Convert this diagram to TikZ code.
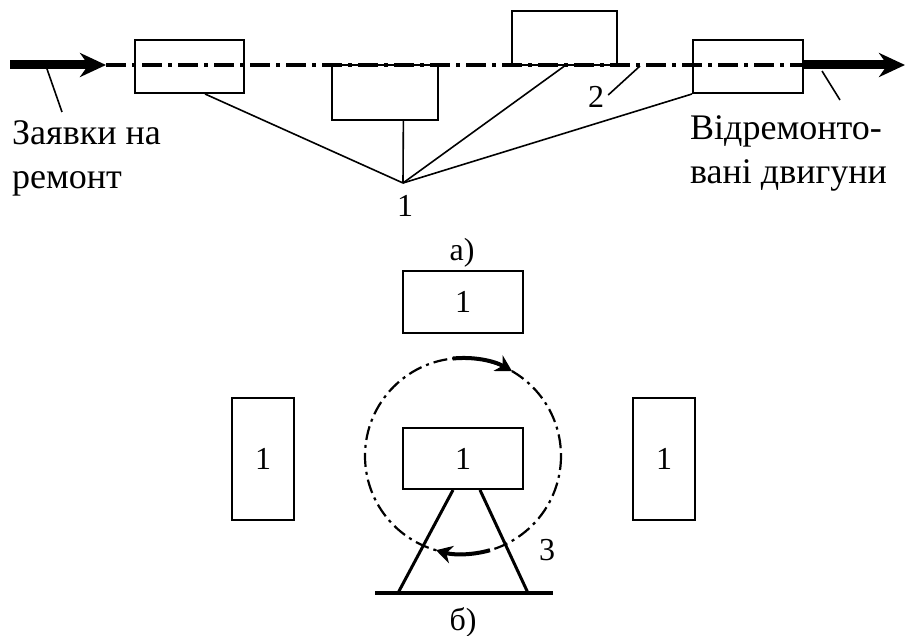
\documentclass[tikz,border=0pt]{standalone}
\usepackage{fontspec}
\setmainfont{Liberation Serif}
\usetikzlibrary{arrows.meta,calc}
\begin{document}
\begin{tikzpicture}[x=1pt,y=-1pt,
  box/.style={draw,line width=2pt,inner sep=0pt,anchor=center,font=\fontsize{32}{38}\selectfont},
  lbl/.style={font=\fontsize{32}{38}\selectfont,inner sep=0pt},
  txt/.style={font=\fontsize{36}{44}\selectfont,inner sep=0pt,align=left,anchor=north west},
  axisline/.style={line width=3.5pt,dash pattern=on 20pt off 6pt on 4pt off 6pt},
  circline/.style={line width=2.2pt,dash pattern=on 14pt off 5pt on 3pt off 5pt},
  conn/.style={line width=1.6pt},
  flow/.style={line width=9pt,-{Stealth[length=26pt,width=24pt]}},
  rot/.style={line width=4pt,-{Stealth[length=16pt,width=18pt]}},
  leg/.style={line width=3pt},
]
\fill[white] (0,0) rectangle (905,636);
\useasboundingbox (0,0) rectangle (905,636);

% ---------- a) ----------
\node[box,minimum width=109pt,minimum height=53pt] (A) at (189.5,66.5) {};
\node[box,minimum width=106pt,minimum height=55pt] (B) at (385,92.5) {};
\node[box,minimum width=105pt,minimum height=54pt] (C) at (564.5,38) {};
\node[box,minimum width=110pt,minimum height=53pt] (D) at (748,66.5) {};

\coordinate (L0) at (10,65);
\coordinate (L1) at (106,65);
\coordinate (R0) at (803,65);
\coordinate (R1) at (905,65);
\draw[axisline] (L1) -- (R0);
\draw[flow] (L0) -- (L1);
\draw[flow] (R0) -- (R1);

\coordinate (p1) at (403,183);
\draw[conn] ($(A.south west)!0.64!(A.south east)$) -- (p1);
\draw[conn] ($(B.south west)!0.67!(B.south east)$) -- (p1);
\draw[conn] (C.south) -- (p1);
\draw[conn] (D.south west) -- (p1);
\node[lbl] (n1) at (405,206) {1};

\node[lbl] (n2) at (596,97) {2};
\coordinate (c2) at (640,66);
\draw[conn] ($(n2.east)+(4,-2)$) -- (c2);

\node[txt] (ltxt) at (12,120) {Заявки на\\ремонт};
\coordinate (la) at (47,69);
\draw[conn] (la) -- ($(ltxt.north west)+(50,-8)$);

\node[txt] (rtxt) at (690,115) {Відремонто-\\вані двигуни};
\coordinate (ra) at (822,71);
\draw[conn] (ra) -- ($(rtxt.north west)+(150,-15)$);

\node[lbl] (ca) at (462,253) {а)};

% ---------- б) ----------
\node[box,minimum width=120pt,minimum height=62pt] (T) at (463,302) {1};
\node[box,minimum width=62pt,minimum height=122pt] (Lb) at (263,459) {1};
\node[box,minimum width=62pt,minimum height=122pt] (Rb) at (664,459) {1};
\node[box,minimum width=120pt,minimum height=61pt] (M) at (463,458.5) {1};

\coordinate (O) at (463,456);
\draw[circline] (O) circle[radius=98];
\draw[rot] (O) ++(-96:98) arc[start angle=-96,end angle=-60,radius=98];
\draw[rot] (O) ++(74:98) arc[start angle=74,end angle=106,radius=98];

\coordinate (bl) at (398,593);
\coordinate (br) at (528,593);
\coordinate (b0) at (375,593);
\coordinate (b1) at (553,593);
\draw[leg] ($(M.south)+(-10,0)$) -- (bl);
\draw[leg] ($(M.south)+(17,0)$) -- (br);
\draw[line width=4pt] (b0) -- (b1);

\node[lbl] (n3) at (547,550) {3};
\node[lbl] (cb) at (463,622) {б)};
\end{tikzpicture}
\end{document}
